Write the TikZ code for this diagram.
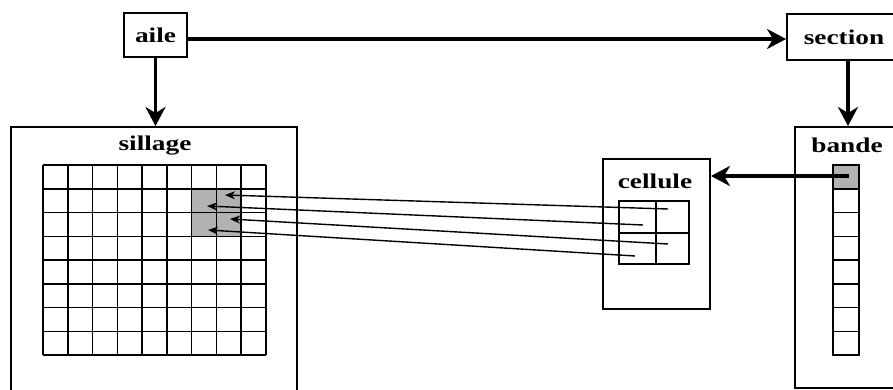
\documentclass[tikz,border=0pt]{standalone}
\usepackage{fontspec}
\newfontfamily\lblfont{Liberation Serif}[FakeStretch=1.3]
\usetikzlibrary{arrows.meta}
\begin{document}
\begin{tikzpicture}[x=1pt,y=-1pt,
  lbl/.style={font=\lblfont\bfseries\fontsize{21}{21}\selectfont, inner sep=0pt},
  box/.style={draw, line width=2pt, inner sep=0pt},
  gridline/.style={line width=1.5pt},
  bigarrow/.style={line width=3.2pt, -{Stealth[length=19pt,width=20pt,inset=6pt]}},
  thinarrow/.style={line width=1.4pt, -{Stealth[length=10pt,width=8pt,inset=3pt]}},
  shade/.style={fill=black!30}
]
\useasboundingbox (0,0) rectangle (893,390);
\clip (0,0) rectangle (893,390);
\fill[white] (0,0) rectangle (893,390);

% top boxes
\node[box, minimum width=63pt, minimum height=44pt] (aile) at (155.5,35) {};
\node[lbl] (ailetxt) at (155.5,35) {aile};
\node[box, minimum width=116pt, minimum height=46pt, anchor=north west] (section) at (786,13) {};
\node[lbl] (sectiontxt) at (844,37) {section};

% big containers
\node[box, minimum width=286pt, minimum height=280pt, anchor=north west] (sillage) at (10,126) {};
\node[lbl] (sillagetxt) at (155,146) {sillage};
\node[box, minimum width=107pt, minimum height=150pt, anchor=north west] (cellule) at (602,158) {};
\node[lbl] (celluletxt) at (655,181) {cellule};
\node[box, minimum width=110pt, minimum height=261pt, anchor=north west] (bande) at (794,126) {};
\node[lbl] (bandetxt) at (847,145) {bande};

% sillage grid
\fill[shade] (192,188) rectangle (242,237);
\foreach \i in {0,...,9}{
  \draw[gridline] ({43+\i*223/9},165) -- ({43+\i*223/9},355);
}
\foreach \j in {0,...,8}{
  \draw[gridline] (43,{165+\j*190/8}) -- (266,{165+\j*190/8});
}

% bande strip
\fill[shade] (833,165) rectangle (859,189);
\draw[gridline] (833,165) rectangle (859,355);
\foreach \j in {1,...,7}{
  \draw[gridline] (833,{165+\j*190/8}) -- (859,{165+\j*190/8});
}

% cellule grid
\draw[gridline] (619,201) rectangle (689,264);
\draw[gridline] (656,201) -- (656,264);
\draw[gridline] (619,233) -- (689,233);

% coordinates
\coordinate (c1) at (668,209);
\coordinate (c2) at (643,225);
\coordinate (c3) at (668,244);
\coordinate (c4) at (635,256);
\coordinate (s1) at (225,195);
\coordinate (s2) at (207,206);
\coordinate (s3) at (230,219);
\coordinate (s4) at (208,230);
\coordinate (b1) at (849,176);

% big arrows
\draw[bigarrow] (aile.east |- 0,39) -- (section.west |- 0,39);
\draw[bigarrow] (aile.south) -- (sillage.north -| aile.south);
\draw[bigarrow] (section.south -| 848,0) -- (bande.north -| 848,0);
\draw[bigarrow] (b1) -- (cellule.east |- b1);

% thin arrows
\draw[thinarrow] (c1) -- (s1);
\draw[thinarrow] (c2) -- (s2);
\draw[thinarrow] (c3) -- (s3);
\draw[thinarrow] (c4) -- (s4);
\end{tikzpicture}
\end{document}
